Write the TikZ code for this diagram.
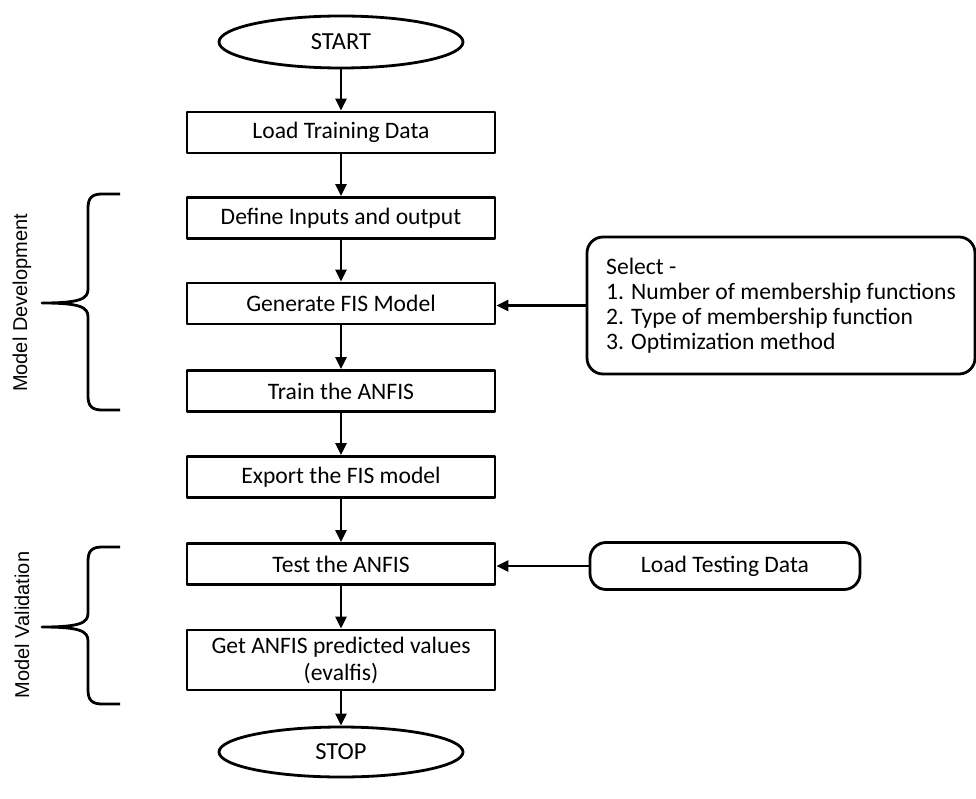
\documentclass[tikz,border=0pt]{standalone}
\usepackage{fontspec}
\setmainfont{Carlito}
\newfontfamily\labelfont{Liberation Sans}
\usetikzlibrary{shapes.geometric,arrows.meta}
\begin{document}
\begin{tikzpicture}[x=1pt,y=1pt,line width=2.8pt,line join=round,
		flow/.style={draw,rectangle,minimum width=308pt,minimum height=41pt,inner sep=0pt,align=center,
			font=\fontsize{23.6}{27}\selectfont},
		term/.style={draw,ellipse,minimum width=244pt,minimum height=52pt,inner sep=0pt,
			font=\fontsize{24.5}{27}\selectfont},
		side/.style={draw,rectangle,rounded corners=16pt,inner sep=0pt,
			font=\fontsize{23.6}{25}\selectfont},
		grouplabel/.style={rotate=90,font=\labelfont\fontsize{20}{22}\selectfont},
		arr/.style={-{Triangle[length=12pt,width=11pt]}}]
			\useasboundingbox (0,0) rectangle (976,-799);
			% main column
			\node [term] (start) at (341,-42) {START};
			\node [flow] (loadtrain) at (341,-132.5) {Load Training Data};
			\node [flow] (inputs) at (341,-218) {Define Inputs and output};
			\node [flow] (genfis) at (341,-303.5) {Generate FIS Model};
			\node [flow] (train) at (341,-391) {Train the ANFIS};
			\node [flow] (export) at (341,-477) {Export the FIS model};
			\node [flow] (test) at (341,-564) {Test the ANFIS};
			\node [flow,minimum height=60pt] (predict) at (341,-660) {Get ANFIS predicted values\\(evalfis)};
			\node [term,minimum height=50pt] (stop) at (341,-752) {STOP};
			% side boxes
			\node [side,minimum width=388pt,minimum height=137pt,align=left] (select) at (781,-305.5)
				{Select -\\1. Number of membership functions\\2. Type of membership function\\3. Optimization method};
			\node [side,minimum width=270pt,minimum height=47pt] (loadtest) at (725,-566) {Load Testing Data};
			% connectors
			\draw [arr] (start) -- (loadtrain);
			\draw [arr] (loadtrain) -- (inputs);
			\draw [arr] (inputs) -- (genfis);
			\draw [arr] (genfis) -- (train);
			\draw [arr] (train) -- (export);
			\draw [arr] (export) -- (test);
			\draw [arr] (test) -- (predict);
			\draw [arr] (predict) -- (stop);
			\draw [arr] (select.west) -- (select.west -| genfis.east);
			\draw [arr] (loadtest.west) -- (loadtest.west -| test.east);
			% braces
			\coordinate (devtip) at (42,-303);
			\draw (120,-194) -- (102,-194) .. controls (92,-194) and (88,-198) .. (88,-208) -- (88,-289)
				.. controls (88,-299) and (80,-303) .. (devtip)
				.. controls (80,-303) and (88,-307) .. (88,-317) -- (88,-396)
				.. controls (88,-406) and (92,-410) .. (102,-410) -- (120,-410);
			\node [grouplabel] (devlabel) at (22,-303) {Model Development};
			\coordinate (valtip) at (42,-627);
			\draw (120,-547) -- (102,-547) .. controls (92,-547) and (88,-551) .. (88,-561) -- (88,-613)
				.. controls (88,-623) and (80,-627) .. (valtip)
				.. controls (80,-627) and (88,-631) .. (88,-641) -- (88,-690)
				.. controls (88,-700) and (92,-704) .. (102,-704) -- (120,-704);
			\node [grouplabel] (vallabel) at (22,-625) {Model Validation};
		\end{tikzpicture}
\end{document}
